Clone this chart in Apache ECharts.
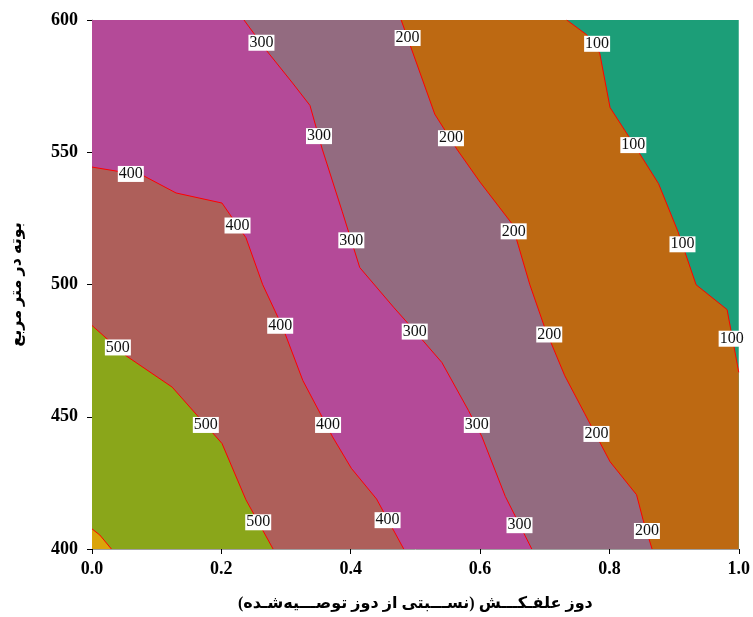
<!DOCTYPE html>
<html>
<head>
<meta charset="utf-8">
<script src="https://cdn.jsdelivr.net/npm/echarts@6/dist/echarts.min.js"></script>
<style>
  html, body { margin: 0; padding: 0; background: #fff; }
  #chart { width: 753px; height: 617px; }
</style>
</head>
<body>
<div id="chart"></div>
<script>
// Axis ticks
const xTicks = [0.0, 0.2, 0.4, 0.6, 0.8, 1.0];
const yTicks = [400, 450, 500, 550, 600];

// Contour levels and their traced paths [dose, plants per m²]
const levels = [100, 200, 300, 400, 500, 600];
const contour100 = [[0.734, 600], [0.765, 594.4], [0.785, 587.5], [0.801, 566.9], [0.839, 552.5],
  [0.876, 538.1], [0.906, 520.0], [0.934, 499.9], [0.982, 490.5], [1.0, 466.8]];
const contour200 = [[0.478, 600], [0.530, 564.4], [0.564, 551.2], [0.600, 538.7], [0.649, 523.1],
  [0.659, 514.9], [0.677, 499.9], [0.700, 483.7], [0.731, 465.5], [0.762, 451.1], [0.801, 433.0],
  [0.842, 420.5], [0.852, 411.1], [0.866, 400]];
const contour300 = [[0.235, 600], [0.269, 588.7], [0.310, 576.2], [0.337, 567.7], [0.356, 551.2],
  [0.387, 527.5], [0.414, 506.4], [0.467, 491.2], [0.490, 484.9], [0.541, 470.5], [0.582, 452.4],
  [0.603, 442.4], [0.639, 419.9], [0.680, 400]];
const contour400 = [[0.0, 544.4], [0.079, 541.2], [0.130, 534.6], [0.201, 530.8], [0.238, 517.7],
  [0.264, 499.9], [0.295, 483.7], [0.326, 463.7], [0.372, 442.4], [0.401, 430.5], [0.440, 418.9],
  [0.482, 400]];
const contour500 = [[0.0, 484.5], [0.053, 473.0], [0.124, 461.2], [0.201, 439.9], [0.238, 418.6],
  [0.280, 400]];
const contour600 = [[0.0, 407.6], [0.012, 405.3], [0.030, 400]];

// Fill colours, from lowest band (<100) to highest (>600)
const bandColors = ['#1c9e78', '#bd6912', '#936b80', '#b44a98', '#ae5f5a', '#8aa61a', '#dba40a'];

// Inline contour labels [dose, plants, text]
const contourLabels = [
  [0.781, 591.0, '100'], [0.837, 552.7, '100'], [0.913, 515.2, '100'], [0.989, 479.5, '100'],
  [0.488, 593.2, '200'], [0.555, 555.3, '200'], [0.652, 520.1, '200'], [0.707, 481.1, '200'],
  [0.780, 443.5, '200'], [0.858, 406.8, '200'],
  [0.262, 591.4, '300'], [0.351, 556.1, '300'], [0.401, 516.7, '300'], [0.499, 482.2, '300'],
  [0.595, 446.9, '300'], [0.661, 409.0, '300'],
  [0.060, 541.8, '400'], [0.225, 522.3, '400'], [0.291, 484.4, '400'], [0.365, 446.9, '400'],
  [0.457, 410.9, '400'],
  [0.040, 476.2, '500'], [0.176, 446.9, '500'], [0.257, 410.1, '500']
];

const xMin = xTicks[0], xMax = xTicks[xTicks.length - 1];
const yMin = yTicks[0], yMax = yTicks[yTicks.length - 1];
const contours = [contour100, contour200, contour300, contour400, contour500, contour600];

// Region above each level: the contour closed along the lower-left part of the domain
function highRegion(path) {
  const pts = path.slice();
  const last = path[path.length - 1], first = path[0];
  if (last[0] >= xMax && last[1] > yMin) pts.push([xMax, yMin]);
  pts.push([xMin, yMin]);
  if (first[1] >= yMax && first[0] > xMin) pts.push([xMin, yMax]);
  return pts;
}

const domain = [[xMin, yMin], [xMax, yMin], [xMax, yMax], [xMin, yMax]];
const bandPolys = [domain].concat(contours.map(highRegion));

const serif = 'Liberation Serif, "Times New Roman", DejaVu Serif, DejaVu Sans, serif';

const series = [{
  type: 'custom',
  clip: true,
  silent: true,
  z: 1,
  data: bandPolys.map((p, i) => [p[0][0], p[0][1], i]),
  renderItem: function (params, api) {
    const poly = bandPolys[params.dataIndex];
    return {
      type: 'polygon',
      shape: { points: poly.map(p => api.coord(p)) },
      style: { fill: bandColors[params.dataIndex], stroke: null }
    };
  }
}];

contours.forEach((c, i) => {
  series.push({
    type: 'line',
    name: String(levels[i]),
    data: c,
    symbol: 'none',
    silent: true,
    z: 3,
    lineStyle: { color: '#ff0000', width: 1 }
  });
});

series.push({
  type: 'scatter',
  data: contourLabels,
  symbolSize: 0,
  silent: true,
  z: 5,
  itemStyle: { opacity: 1 },
  label: {
    show: true,
    position: 'inside',
    formatter: p => p.data[2],
    fontFamily: serif,
    fontSize: 16,
    lineHeight: 15,
    opacity: 1,
    color: '#111111',
    backgroundColor: '#ffffff',
    padding: [1, 1, 0, 1]
  }
});

const chart = echarts.init(document.getElementById('chart'), null, { renderer: 'canvas' });
chart.setOption({
  animation: false,
  backgroundColor: '#ffffff',
  grid: { left: 92, right: 11, top: 20, bottom: 64, containLabel: false },
  xAxis: {
    type: 'value',
    min: xMin, max: xMax, interval: xTicks[1] - xTicks[0],
    name: 'دوز علفـکـــش (نســـبتی از دوز توصـــیه‌شـده)\u200F',
    nameLocation: 'middle',
    nameGap: 47,
    nameTextStyle: { fontFamily: serif, fontSize: 16, fontWeight: 'bold', color: '#000' },
    axisLine: { show: true, lineStyle: { color: '#a0a0a0', width: 1 } },
    axisTick: { show: true, length: 5, lineStyle: { color: '#000' } },
    axisLabel: {
      margin: 11, fontFamily: serif, fontSize: 18, fontWeight: 'bold', color: '#000',
      formatter: v => v.toFixed(1)
    },
    splitLine: { show: false }
  },
  yAxis: {
    type: 'value',
    min: yMin, max: yMax, interval: yTicks[1] - yTicks[0],
    name: 'بوته در متر مربع',
    nameLocation: 'middle',
    nameGap: 67,
    nameTextStyle: { fontFamily: serif, fontSize: 16, fontWeight: 'bold', color: '#000' },
    axisLine: { show: true, lineStyle: { color: '#a0a0a0', width: 1 } },
    axisTick: { show: true, length: 5, lineStyle: { color: '#000' } },
    axisLabel: { margin: 14, fontFamily: serif, fontSize: 18, fontWeight: 'bold', color: '#000' },
    splitLine: { show: false }
  },
  series: series
});
</script>
</body>
</html>
